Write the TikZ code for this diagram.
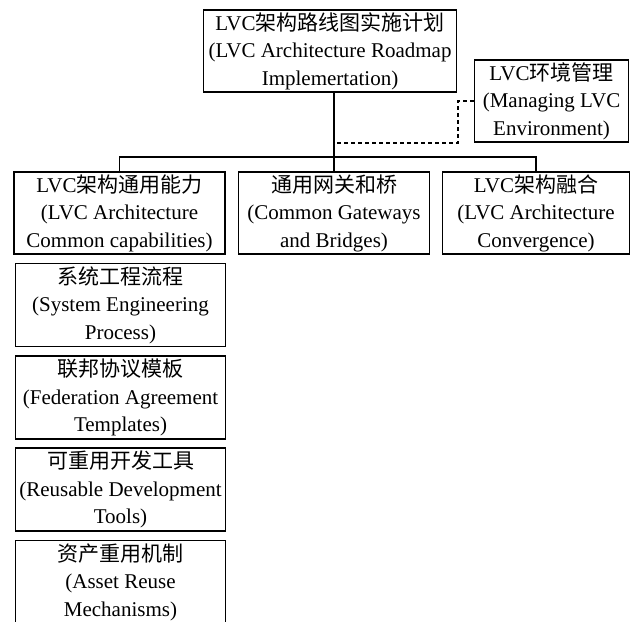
\documentclass[tikz,border=0pt]{standalone}
\usepackage{fontspec}
\setmainfont{Liberation Serif}
\newfontfamily\cjk{Noto Sans CJK SC}
\usetikzlibrary{calc}

\tikzset{
    box/.style={draw, line width=1.2pt, align=center, inner sep=0pt,
        minimum height=82pt, font=\fontsize{21}{27.5}\selectfont},
    link/.style={line width=1.2pt},
    dashlink/.style={line width=1.2pt, dash pattern=on 4pt off 3pt}
}

\begin{document}
\begin{tikzpicture}[x=1pt, y=-1pt]
    \useasboundingbox (0,0) rectangle (636,621);

    % Top of the roadmap
    \node[box, minimum width=253pt] (roadmap) at (330,51)
        {LVC{\cjk 架构路线图实施计划}\\(LVC Architecture Roadmap\\Implemertation)};
    \node[box, minimum width=154pt] (envmgmt) at (551.5,101)
        {LVC{\cjk 环境管理}\\(Managing LVC\\Environment)};

    % Second row
    \node[box, minimum width=211pt] (common) at (119.5,213)
        {LVC{\cjk 架构通用能力}\\(LVC Architecture\\Common capabilities)};
    \node[box, minimum width=191pt] (gateways) at (334,213)
        {{\cjk 通用网关和桥}\\(Common Gateways\\and Bridges)};
    \node[box, minimum width=187pt] (converge) at (536,213)
        {LVC{\cjk 架构融合}\\(LVC Architecture\\Convergence)};

    % Column under the common capabilities
    \foreach \nm/\y/\zh/\ena/\enb in {
        syseng/305/系统工程流程/System Engineering/Process,
        fedtmpl/397.5/联邦协议模板/Federation Agreement/Templates,
        devtools/489.5/可重用开发工具/Reusable Development/Tools,
        assetreuse/582/资产重用机制/Asset Reuse/Mechanisms} {
        \node[box, minimum width=210pt, minimum height=83pt] (\nm) at (120.5,\y)
            {{\cjk \zh}\\(\ena\\\enb)};
    }

    % Connectors
    \coordinate (bus) at (0,157);
    \coordinate (dashjoin) at (334,143);
    \draw[link] (roadmap.south -| gateways.north) -- (gateways.north);
    \draw[link] (common.north) |- (bus -| gateways.north) -| (converge.north);
    \draw[dashlink] (envmgmt.west) -- ++(-16,0) |- (dashjoin);
\end{tikzpicture}
\end{document}
